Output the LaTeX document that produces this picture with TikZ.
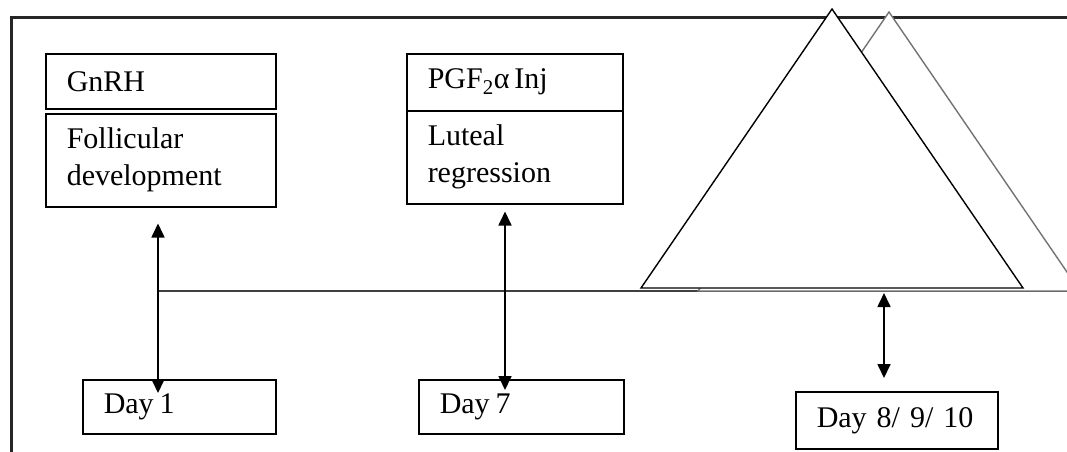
\documentclass[tikz,border=0pt]{standalone}
\usepackage{fontspec}
\setmainfont{Liberation Serif}
\usetikzlibrary{arrows.meta,calc}
\tikzset{
  box/.style={draw=black, line width=1.5pt, rectangle, anchor=north west, align=left,
    inner xsep=21pt, inner ysep=0pt, font=\fontsize{30pt}{37pt}\selectfont, text=black},
  dbl/.style={{Triangle[width=13pt,length=14pt]}-{Triangle[width=13pt,length=14pt]}, line width=1.7pt},
  frame/.style={line width=3pt, black!85},
  tline/.style={line width=1.5pt, black!75},
  tri/.style={fill=white, draw=black, line width=1.4pt, line join=miter},
  trib/.style={fill=white, draw=black!55, line width=1.4pt, line join=miter}
}
\begin{document}
\begin{tikzpicture}[x=1pt,y=-1pt]
\useasboundingbox (0,0) rectangle (1067,451);
\clip (0,0) rectangle (1067,451);
% frame
\draw[frame] (1070,17) -- (11,17) -- (11,455);
% time line
\coordinate (hlA) at (158,291);
\coordinate (hlB) at (1070,291);
\draw[tline] (hlA) -- (hlB);
% triangles
\draw[trib] (889,12) -- (698,291) -- (1080,291) -- cycle;
\draw[tri] (832,9) -- (641,288) -- (1023,288) -- cycle;
% boxes
\node[box, text width=188pt, minimum height=55pt] (gnrh) at (45,53) {GnRH};
\node[box, text width=188pt, minimum height=93pt] (foll) at (45,113) {Follicular\\development};
\node[box, text width=174pt, minimum height=57pt] (pgf) at (406,53) {PGF\textsubscript{2}α\hspace{5pt}Inj};
\node[box, text width=174pt, minimum height=93pt] (lut) at (406,110) {Luteal\\regression};
\node[box, text width=151pt, minimum height=54pt] (day1) at (82,379) {Day\hspace{6pt}1};
\node[box, text width=163pt, minimum height=54pt] (day7) at (418,379) {Day\hspace{6pt}7};
\node[box, text width=160pt, minimum height=57pt] (day8) at (795,391) {Day 8/ 9/ 10};
% arrows
\draw[dbl] ($(foll.south west)+(113,16)$) -- ($(day1.north west)+(76,14)$);
\draw[dbl] ($(lut.south west)+(99,7)$) -- ($(day7.north west)+(87,11)$);
\draw[dbl] ($(day8.north west)+(89,-98)$) -- ($(day8.north west)+(89,-13)$);
\end{tikzpicture}
\end{document}
